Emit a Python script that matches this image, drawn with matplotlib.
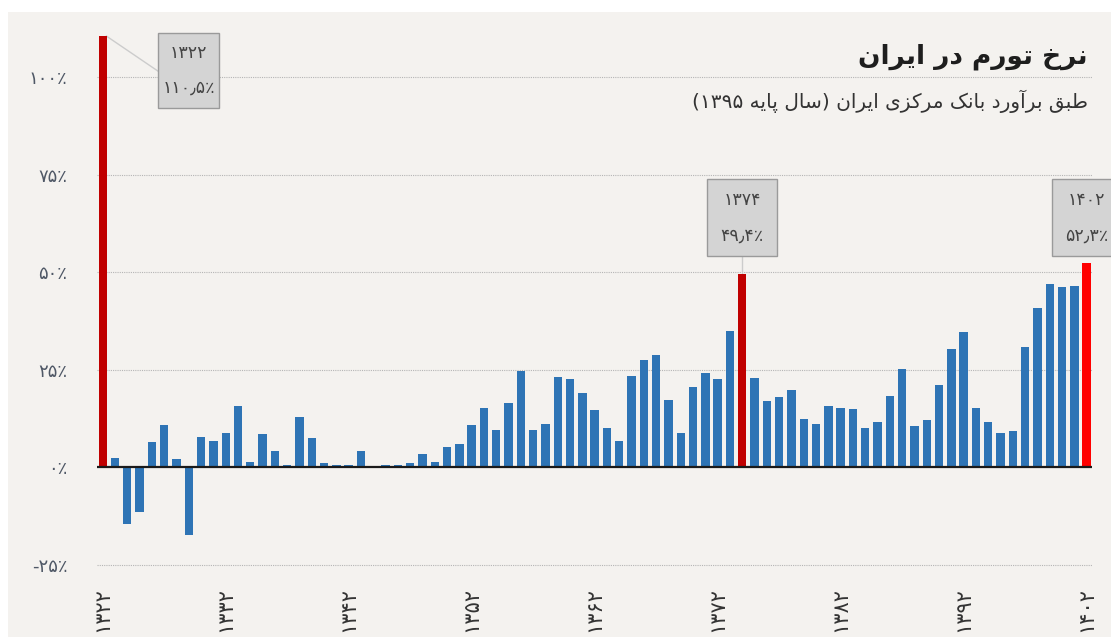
import re
import numpy as np
import matplotlib
matplotlib.use("Agg")
import matplotlib.pyplot as plt
from matplotlib.patches import Rectangle

# data: Iranian calendar year and yearly inflation (%)
years = list(range(1322, 1403))
inflation = [
    110.5, 2.3, -14.7, -11.6, 6.3, 10.7, 2.0, -17.4, 7.8, 6.7,
    8.8, 15.6, 1.3, 8.4, 4.0, 0.5, 12.7, 7.5, 1.1, 0.6,
    0.6, 4.1, 0.1, 0.4, 0.5, 1.1, 3.3, 1.3, 5.1, 6.0,
    10.9, 15.2, 9.5, 16.3, 24.7, 9.5, 11.0, 23.2, 22.5, 18.9,
    14.5, 10.0, 6.7, 23.3, 27.4, 28.6, 17.2, 8.7, 20.4, 24.1,
    22.6, 35.0, 49.4, 22.8, 17.0, 17.9, 19.8, 12.3, 11.1, 15.6,
    15.2, 15.0, 10.1, 11.5, 18.1, 25.1, 10.5, 12.1, 21.0, 30.2,
    34.5, 15.2, 11.5, 8.6, 9.2, 30.9, 40.9, 46.9, 46.2, 46.3,
    52.3,
]
highlight = {1322: "#c00000", 1374: "#c00000", 1402: "#ff0000"}
xtick_years = list(range(1322, 1403, 10))
ytick_vals = [-25, 0, 25, 50, 75, 100]

title = "نرخ تورم در ایران"
subtitle = "طبق برآورد بانک مرکزی ایران (سال پایه ۱۳۹۵)"

# --- minimal persian shaping (matplotlib has no RTL / joining support) ---
FORMS = {  # isolated, final, initial, medial
    "ا": ("\uFE8D", "\uFE8E", None, None),
    "آ": ("\uFE81", "\uFE82", None, None),
    "ب": ("\uFE8F", "\uFE90", "\uFE91", "\uFE92"),
    "پ": ("\uFB56", "\uFB57", "\uFB58", "\uFB59"),
    "ت": ("\uFE95", "\uFE96", "\uFE97", "\uFE98"),
    "خ": ("\uFEA5", "\uFEA6", "\uFEA7", "\uFEA8"),
    "د": ("\uFEA9", "\uFEAA", None, None),
    "ر": ("\uFEAD", "\uFEAE", None, None),
    "ز": ("\uFEAF", "\uFEB0", None, None),
    "س": ("\uFEB1", "\uFEB2", "\uFEB3", "\uFEB4"),
    "ط": ("\uFEC1", "\uFEC2", "\uFEC3", "\uFEC4"),
    "ق": ("\uFED5", "\uFED6", "\uFED7", "\uFED8"),
    "ک": ("\uFB8E", "\uFB8F", "\uFB90", "\uFB91"),
    "ل": ("\uFEDD", "\uFEDE", "\uFEDF", "\uFEE0"),
    "م": ("\uFEE1", "\uFEE2", "\uFEE3", "\uFEE4"),
    "ن": ("\uFEE5", "\uFEE6", "\uFEE7", "\uFEE8"),
    "ه": ("\uFEE9", "\uFEEA", "\uFEEB", "\uFEEC"),
    "و": ("\uFEED", "\uFEEE", None, None),
    "ی": ("\uFBFC", "\uFBFD", "\uFBFE", "\uFBFF"),
}


def rtl(text):
    out = []
    for i, ch in enumerate(text):
        if ch not in FORMS:
            out.append(ch)
            continue
        prev = text[i - 1] if i > 0 else ""
        nxt = text[i + 1] if i + 1 < len(text) else ""
        iso, fin, ini, med = FORMS[ch]
        join_prev = prev in FORMS and FORMS[prev][2] is not None
        join_next = ini is not None and nxt in FORMS
        if join_prev and join_next:
            out.append(med)
        elif join_prev:
            out.append(fin)
        elif join_next:
            out.append(ini)
        else:
            out.append(iso)
    vis = "".join(out)[::-1]
    vis = re.sub("[\u06F0-\u06F9\u066B\u066A]+", lambda m: m.group(0)[::-1], vis)
    return vis.translate(str.maketrans("()", ")("))


def fa(num):
    s = str(num).replace(".", "\u066B")
    return s.translate(str.maketrans("0123456789", "۰۱۲۳۴۵۶۷۸۹"))


def pct(v):
    return fa(v) + "\u066A"


plt.rcParams["font.family"] = ["DejaVu Sans"]

fig = plt.figure(figsize=(11.11, 6.37), dpi=100, facecolor="white")
bg = "#f4f2ef"
fig.add_artist(Rectangle((8 / 1111, 0), 1, (637 - 12) / 637,
                         transform=fig.transFigure, facecolor=bg,
                         edgecolor="none", zorder=-10))

ax = fig.add_axes([0.0869, 0.0954, 0.8956, 0.8633])
ax.set_facecolor("none")

colors = [highlight.get(y, "#2e74b5") for y in years]
ax.bar(years, inflation, width=0.68, color=colors, zorder=3)

ax.set_xlim(1321.5, 1402.4)
ax.set_ylim(-28, 113)

for v in ytick_vals:
    if v != 0:
        ax.axhline(v, color="#b5b5b5", lw=0.8, ls=(0, (1, 1)), zorder=1)
ax.axhline(0, color="#1a1a1a", lw=1.6, zorder=4)

ax.set_yticks(ytick_vals)
ax.set_yticklabels([pct(v) for v in ytick_vals], color="#4f5866", fontsize=13)
ax.set_xticks(xtick_years)
ax.set_xticklabels([fa(y) for y in xtick_years], rotation=90, fontsize=15, color="#333333")
ax.tick_params(axis="y", length=0, pad=21)
ax.tick_params(axis="x", length=0, pad=8)
for s in ax.spines.values():
    s.set_visible(False)

# annotation boxes
def label_box(x0, x1, y0, y1, year, val):
    ax.add_patch(Rectangle((x0, y0), x1 - x0, y1 - y0, facecolor="#d4d4d4",
                           edgecolor="#9a9a9a", lw=1, zorder=5, clip_on=False))
    xc = (x0 + x1) / 2
    h = y1 - y0
    ax.text(xc, y1 - h * 0.27, fa(year), ha="center", va="center", fontsize=12.5,
            color="#444444", zorder=6, clip_on=False)
    ax.text(xc, y0 + h * 0.27, pct(val), ha="center", va="center", fontsize=12.5,
            color="#444444", zorder=6, clip_on=False)


i0, i1, i2 = years.index(1322), years.index(1374), years.index(1402)
label_box(1326.5, 1331.45, 92.0, 111.3, years[i0], inflation[i0])
ax.plot([1322.3, 1326.5], [inflation[i0], 101.5], color="#cccccc", lw=1, zorder=2)
label_box(1371.15, 1376.85, 54.1, 73.8, years[i1], inflation[i1])
ax.plot([1374, 1374], [inflation[i1], 54.1], color="#cccccc", lw=1, zorder=2)
label_box(1399.15, 1404.85, 54.1, 73.8, years[i2], inflation[i2])

fig.text(1088 / 1111, 1 - 57 / 637, rtl(title), ha="right", va="center",
         fontsize=19, fontweight="bold", color="#1e1e1e")
fig.text(1088 / 1111, 1 - 101 / 637, rtl(subtitle), ha="right", va="center",
         fontsize=14.5, color="#333333")

fig.savefig("out.png", dpi=100, facecolor=fig.get_facecolor())
